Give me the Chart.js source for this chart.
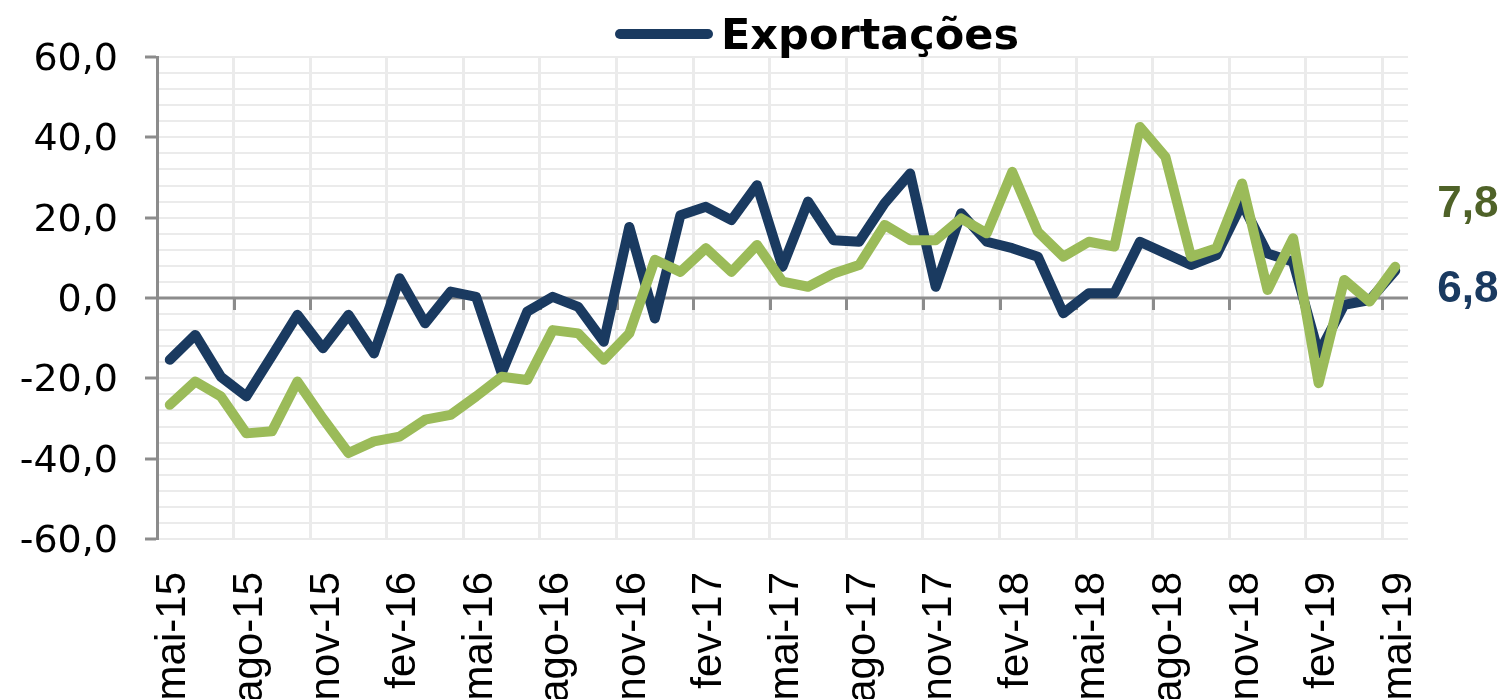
<!DOCTYPE html>
<html lang="pt">
<head>
<meta charset="utf-8">
<title>Exportações</title>
<script src="https://cdn.jsdelivr.net/npm/chart.js@4.4.1/dist/chart.umd.min.js"></script>
<style>
  html, body { margin: 0; padding: 0; background: #fff; }
  #wrap { width: 1509px; height: 699px; }
</style>
</head>
<body>
<div id="wrap"><canvas id="chart" width="1509" height="699"></canvas></div>
<script>
// monthly categories, mai-15 .. mai-19
const months = [
  'mai-15','jun-15','jul-15','ago-15','set-15','out-15','nov-15','dez-15',
  'jan-16','fev-16','mar-16','abr-16','mai-16','jun-16','jul-16','ago-16','set-16','out-16','nov-16','dez-16',
  'jan-17','fev-17','mar-17','abr-17','mai-17','jun-17','jul-17','ago-17','set-17','out-17','nov-17','dez-17',
  'jan-18','fev-18','mar-18','abr-18','mai-18','jun-18','jul-18','ago-18','set-18','out-18','nov-18','dez-18',
  'jan-19','fev-19','mar-19','abr-19','mai-19'
];

// navy series (shown in legend)
const exportacoes = [
  -15.4, -9.2, -19.6, -24.5, -14.4, -4.2, -12.5, -4.2, -13.8, 4.9,
  -6.3, 1.6, 0.3, -18.7, -3.4, 0.3, -2.2, -10.9, 17.7, -5.1,
  20.6, 22.7, 19.4, 28.1, 7.8, 24.0, 14.4, 14.0, 23.6, 31.0,
  2.8, 21.1, 14.0, 12.4, 10.3, -3.8, 1.2, 1.2, 14.0, 11.1,
  8.2, 10.7, 23.5, 11.1, 9.0, -13.8, -1.7, -0.5, 6.8
];

// green series (not in the visible legend)
const serieVerde = [
  -26.6, -20.8, -24.5, -33.7, -33.2, -20.8, -30.0, -38.6, -35.7, -34.5,
  -30.3, -29.1, -24.5, -19.6, -20.4, -8.0, -8.8, -15.4, -8.8, 9.5,
  6.5, 12.4, 6.5, 13.2, 4.1, 2.8, 6.1, 8.2, 18.2, 14.4,
  14.4, 19.8, 16.1, 31.4, 16.5, 10.3, 14.0, 12.8, 42.6, 35.1,
  10.3, 12.4, 28.5, 2.0, 14.9, -21.2, 4.5, -0.9, 7.8
];

const yTicks = [-60, -40, -20, 0, 20, 40, 60];

const NAVY = '#1a3a60';
const GREEN = '#9bbb59';
const OLIVE = '#4f6228';
const AXIS_GREY = '#8c8c8c';
const GRID = '#ebebeb';

const fmt = v => v.toFixed(1).replace('.', ',');

// zero line with the category tick marks hanging below it
const zeroAxis = {
  id: 'zeroAxis',
  beforeDatasetsDraw(chart) {
    const { ctx, chartArea, scales: { x, y } } = chart;
    const y0 = y.getPixelForValue(0);
    const half = (x.getPixelForValue(1) - x.getPixelForValue(0)) / 2;
    ctx.save();
    ctx.strokeStyle = AXIS_GREY;
    ctx.lineWidth = 3;
    ctx.beginPath();
    ctx.moveTo(chartArea.left, y0);
    ctx.lineTo(chartArea.right, y0);
    for (let i = 3; i < months.length; i += 3) {
      const px = Math.round(x.getPixelForValue(i) - half) + 0.5;
      ctx.moveTo(px, y0);
      ctx.lineTo(px, y0 + 12);
    }
    ctx.stroke();
    ctx.restore();
  }
};

// legend entry + last-value labels
const extras = {
  id: 'extras',
  afterDraw(chart) {
    const { ctx } = chart;
    ctx.save();
    // legend
    ctx.strokeStyle = NAVY;
    ctx.lineWidth = 10;
    ctx.lineCap = 'round';
    ctx.beginPath();
    ctx.moveTo(620, 34);
    ctx.lineTo(708, 34);
    ctx.stroke();
    ctx.fillStyle = '#000';
    ctx.font = 'bold 43px "DejaVu Sans"';
    ctx.textBaseline = 'alphabetic';
    ctx.fillText(chart.data.datasets[0].label, 721, 49);

    // end labels
    ctx.font = 'bold 44px "Liberation Sans"';
    const offsets = [31, -50];
    const colors = [NAVY, OLIVE];
    chart.data.datasets.forEach((ds, k) => {
      const meta = chart.getDatasetMeta(k);
      const last = meta.data[meta.data.length - 1];
      ctx.fillStyle = colors[k];
      ctx.fillText(fmt(ds.data[ds.data.length - 1]), last.x + 42, last.y + offsets[k]);
    });
    ctx.restore();
  }
};

new Chart(document.getElementById('chart'), {
  type: 'line',
  data: {
    labels: months,
    datasets: [
      { label: 'Exportações', data: exportacoes, borderColor: NAVY, order: 1 },
      { label: 'Importações', data: serieVerde, borderColor: GREEN, order: 0 }
    ]
  },
  options: {
    responsive: false,
    animation: false,
    layout: { padding: { top: 57, right: 101, left: 0, bottom: 0 } },
    elements: {
      point: { radius: 0 },
      line: { borderWidth: 10, tension: 0, borderCapStyle: 'round', borderJoinStyle: 'round', fill: false }
    },
    plugins: { legend: { display: false }, tooltip: { enabled: false } },
    scales: {
      x: {
        offset: true,
        grid: {
          offset: true,
          drawTicks: false,
          lineWidth: 3,
          color: c => (c.index % 3 === 0 ? GRID : 'rgba(0,0,0,0)')
        },
        border: { display: false },
        ticks: {
          autoSkip: false,
          minRotation: 90,
          maxRotation: 90,
          padding: 33,
          labelOffset: 4,
          color: '#000',
          font: { family: 'Liberation Sans', size: 42 },
          callback: (v, i) => (i % 3 === 0 ? months[i] : '')
        },
        afterFit: s => { s.height = 160; }
      },
      y: {
        min: yTicks[0],
        max: yTicks[yTicks.length - 1],
        grid: {
          lineWidth: 2,
          color: GRID,
          tickLength: 12,
          tickWidth: 3,
          tickColor: c => (yTicks.includes(c.tick.value) ? AXIS_GREY : 'rgba(0,0,0,0)')
        },
        border: { color: AXIS_GREY, width: 3 },
        ticks: {
          stepSize: 4,
          autoSkip: false,
          padding: 27,
          labelOffset: 3,
          color: '#000',
          font: { family: 'DejaVu Sans', size: 38 },
          callback: v => (yTicks.includes(v) ? fmt(v) : '')
        },
        afterFit: s => { s.width = 157; }
      }
    }
  },
  plugins: [zeroAxis, extras]
});
</script>
</body>
</html>
